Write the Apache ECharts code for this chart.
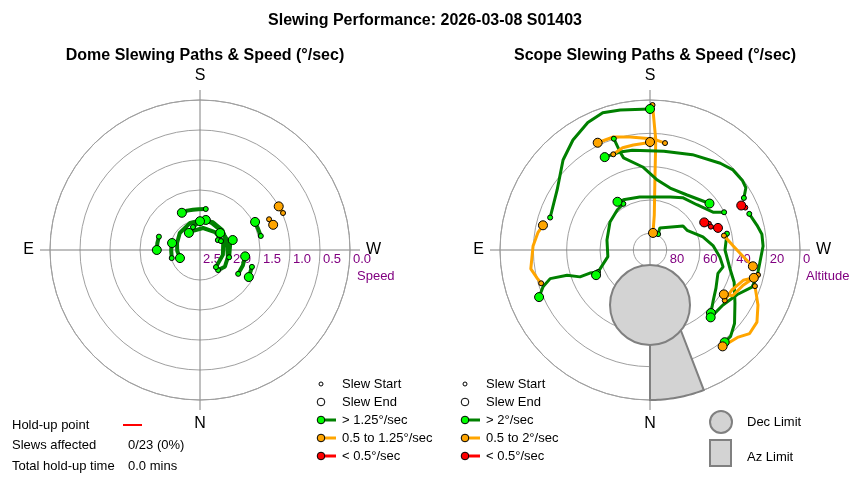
<!DOCTYPE html>
<html>
<head>
<meta charset="utf-8">
<script src="https://cdn.jsdelivr.net/npm/echarts@6/dist/echarts.min.js"></script>
<style>
  html, body { margin: 0; padding: 0; background: #fff; }
  #chart { width: 850px; height: 480px; }
</style>
</head>
<body>
<div id="chart"></div>
<script>
// dome slews: [speed °/sec, azimuth °]
const domeSlews = [
  [[1.81, 188], [1.82, 178], [1.82, 170], [1.81, 162], [1.81, 154]],
  [[1.78, 108], [1.78, 99], [1.78, 90]],
  [[2.01, 74], [2.02, 90], [2.02, 104]],
  [[2.05, 318], [2.0, 304], [2.02, 284], [2.04, 256], [2.0, 228], [1.99, 205], [2.0, 184], [2.02, 160], [2.06, 130], [2.1, 107], [2.12, 88], [2.14, 68]],
  [[2.11, 317], [2.11, 282], [2.09, 251], [2.11, 220], [2.13, 188], [2.16, 160], [2.16, 147]],
  [[2.0, 284], [1.99, 260], [2.02, 229], [2.01, 204], [1.99, 191]],
  [[2.16, 241], [2.06, 230]],
  [[2.1, 163], [2.02, 180]],
  [[1.75, 302], [1.74, 290], [1.74, 278]],
  [[1.59, 288], [1.57, 299]],
  [[1.46, 257], [1.47, 250], [1.47, 243]],
  [[0.985, 246], [1.0, 241]],
  [[1.24, 246], [1.21, 251]],
  [[2.12, 247], [1.93, 253]]
];
const domeClass = ['g', 'g', 'g', 'g', 'g', 'g', 'g', 'g', 'g', 'g', 'g', 'o', 'o', 'g'];

// scope slews: [altitude °, azimuth °]
const scopeSlews = [
  [[27.0, 108], [23.6, 123], [14.9, 136], [9.4, 145], [4.9, 154], [2.9, 161], [4.1, 168], [5.4, 180]],
  [[3.0, 181], [23.9, 183], [47.9, 184], [68.9, 187], [79.6, 190]],
  [[79.3, 207], [75.5, 204], [65.5, 234], [64.8, 242], [57.3, 256], [52.1, 266], [47.8, 276], [45.0, 283], [46.9, 289], [44.3, 300], [41.7, 308], [37.4, 316]],
  [[26.6, 250], [24.1, 257], [22.2, 262], [22.1, 268], [23.6, 276], [23.8, 284], [24.9, 290], [31.2, 297], [35.2, 307], [35.6, 318]],
  [[42.8, 258], [45.0, 270], [40.8, 283], [35.9, 291], [29.9, 302], [22.8, 311], [19.1, 317], [18.8, 321]],
  [[44.8, 259], [40.1, 267], [34.0, 274], [27.5, 279]],
  [[23.5, 283], [30.4, 291], [33.4, 299], [38.3, 301]],
  [[35.9, 304], [35.3, 296], [31.2, 288], [25.5, 285]],
  [[23.4, 289], [17.3, 297], [12.6, 304], [12.0, 310], [15.8, 315], [17.6, 323]],
  [[51.3, 246], [53.5, 243]],
  [[50.9, 249], [47.1, 252]],
  [[27.4, 246], [29.1, 244]],
  [[25.6, 241], [21.4, 237], [20.6, 233], [20.8, 226], [23.0, 219], [27.4, 204], [30.1, 188], [29.2, 170], [28.5, 163], [28.0, 154]],
  [[19.8, 162], [28.5, 163], [32.5, 164], [40.0, 175], [47.8, 186], [50.9, 198], [50.2, 214], [44.7, 232]],
  [[40.1, 243], [45.9, 239], [50.9, 226], [53.0, 212], [56.0, 201], [57.6, 169], [55.9, 152], [55.1, 146]],
  [[58.0, 150], [58.9, 141], [60.7, 125], [63.5, 103], [64.4, 81], [54.3, 65]],
  [[56.1, 67], [51.4, 69], [45.0, 69], [38.0, 73], [27.7, 74], [22.1, 71], [17.7, 67]],
  [[21.7, 73], [20.2, 76], [17.6, 81], [19.8, 92], [22.0, 99], [24.1, 103]],
  [[25.2, 188], [23.4, 182], [21.1, 170], [18.7, 162], [18.4, 154]],
  [[28.5, 159], [26.5, 165], [26.2, 171], [25.8, 178], [25.2, 180]]
];
const scopeClass = ['g', 'o', 'g', 'g', 'g', 'o', 'o', 'o', 'o', 'r', 'r', 'r', 'g', 'g', 'g', 'g', 'g', 'o', 'o', 'o'];

// limits: dec limit circle [alt, az, radius in alt °], az limit [az from, az to], [alt from, alt to]
const decLimit = [57, 0, 24];
const azLimitAz = [339, 360];
const azLimitAlt = [0, 42];

const speedTicks = [0, 0.5, 1.0, 1.5, 2.0, 2.5];
const altTicks = [0, 20, 40, 60, 80];
const compass = { 0: 'W', 90: 'N', 180: 'E', 270: 'S' };

const lineColors = { g: '#008000', o: '#ffa500', r: '#ff0000' };
const dotColors = { g: '#00ff00', o: '#ffa500', r: '#ff0000' };
const FONT = '"Liberation Sans", Arial, sans-serif';

// azimuth (N=0, E=90) -> angle axis value (starts at W on the right, clockwise)
const toAngle = az => (az + 90) % 360;

function angleAxis(p) {
  return {
    polarIndex: p, type: 'value', min: 0, max: 360, interval: 90,
    startAngle: 0, clockwise: true,
    axisLine: { show: true, lineStyle: { color: '#a0a0a0' } },
    axisTick: { show: true, length: 10, lineStyle: { color: '#808080' } },
    splitLine: { show: true, lineStyle: { color: '#808080' } },
    axisLabel: { formatter: v => compass[v] || '', fontSize: 16, color: '#000', margin: 16, fontFamily: FONT }
  };
}

function radiusAxis(p, max, interval, fmt) {
  return {
    polarIndex: p, type: 'value', min: 0, max: max, interval: interval, inverse: true,
    axisLine: { show: false }, axisTick: { show: false },
    splitLine: { show: true, lineStyle: { color: '#a0a0a0' } },
    axisLabel: { color: '#800080', fontSize: 13, fontFamily: FONT, formatter: fmt, align: 'left', verticalAlign: 'top', margin: -3, padding: [0, 0, 0, 3] }
  };
}

function slewSeries(p, slews, classes, width) {
  const out = [];
  slews.forEach((pts, i) => {
    out.push({
      type: 'line', coordinateSystem: 'polar', polarIndex: p, silent: true, z: 3,
      symbol: 'none', data: pts.map(d => [d[0], toAngle(d[1])]),
      lineStyle: { color: lineColors[classes[i]], width: width }
    });
  });
  const marks = (idx, size) => ({
    type: 'scatter', coordinateSystem: 'polar', polarIndex: p, silent: true, z: 4,
    symbolSize: size,
    itemStyle: { borderColor: '#000', borderWidth: 1, opacity: 1 },
    data: slews.map((pts, i) => {
      const d = idx === 0 ? pts[0] : pts[pts.length - 1];
      return { value: [d[0], toAngle(d[1])], itemStyle: { color: dotColors[classes[i]] } };
    })
  });
  out.push(marks(0, 5));
  out.push(marks(1, 9));
  return out;
}

const limitStyle = { fill: '#d3d3d3', stroke: '#808080', lineWidth: 2 };

const limitSeries = [
  {
    type: 'custom', coordinateSystem: 'polar', polarIndex: 1, silent: true, z: 2,
    data: [[azLimitAlt[0], toAngle(azLimitAz[0])]],
    renderItem: (params, api) => {
      const pts = [];
      for (let a = azLimitAz[0]; a <= azLimitAz[1]; a++) pts.push(api.coord([azLimitAlt[0], toAngle(a)]));
      for (let a = azLimitAz[1]; a >= azLimitAz[0]; a--) pts.push(api.coord([azLimitAlt[1], toAngle(a)]));
      return { type: 'polygon', shape: { points: pts }, style: limitStyle };
    }
  },
  {
    type: 'custom', coordinateSystem: 'polar', polarIndex: 1, silent: true, z: 2,
    data: [[decLimit[0], toAngle(decLimit[1])]],
    renderItem: (params, api) => {
      const c = api.coord([api.value(0), api.value(1)]);
      const e = api.coord([api.value(0) - decLimit[2], api.value(1)]);
      const r = Math.hypot(e[0] - c[0], e[1] - c[1]);
      return { type: 'circle', shape: { cx: c[0], cy: c[1], r: r }, style: limitStyle };
    }
  }
];

function txt(x, y, text, extra) {
  return Object.assign({ type: 'text', x: x, y: y, silent: true,
    style: { text: text, fontSize: 13, fontFamily: FONT, fill: '#000', verticalAlign: 'middle' } }, extra || {});
}
function dot(cx, cy, r, fill) {
  return { type: 'circle', silent: true, shape: { cx: cx, cy: cy, r: r }, style: { fill: fill, stroke: '#000', lineWidth: 1 } };
}
function legendBlock(x, labels) {
  const rows = [384, 402, 420, 438, 456];
  const g = [dot(x, rows[0], 2, '#fff'), dot(x, rows[1], 3.8, '#fff')];
  ['g', 'o', 'r'].forEach((c, i) => {
    g.push({ type: 'line', silent: true, shape: { x1: x, y1: rows[i + 2], x2: x + 15, y2: rows[i + 2] }, style: { stroke: lineColors[c], lineWidth: 3 } });
    g.push(dot(x, rows[i + 2], 3.8, dotColors[c]));
  });
  labels.forEach((t, i) => g.push(txt(x + 21, rows[i], t)));
  return g;
}

const graphics = [].concat(
  legendBlock(321, ['Slew Start', 'Slew End', '> 1.25°/sec', '0.5 to 1.25°/sec', '< 0.5°/sec']),
  legendBlock(465, ['Slew Start', 'Slew End', '> 2°/sec', '0.5 to 2°/sec', '< 0.5°/sec']),
  [
    { type: 'circle', silent: true, shape: { cx: 721, cy: 422, r: 11 }, style: limitStyle },
    { type: 'rect', silent: true, shape: { x: 710, y: 440, width: 21, height: 26 }, style: limitStyle },
    txt(747, 422, 'Dec Limit'),
    txt(747, 457, 'Az Limit'),
    txt(12, 425, 'Hold-up point'),
    { type: 'line', silent: true, shape: { x1: 123, y1: 425, x2: 142, y2: 425 }, style: { stroke: '#ff0000', lineWidth: 2 } },
    txt(12, 445, 'Slews affected'),
    txt(128, 445, '0/23 (0%)'),
    txt(12, 466, 'Total hold-up time'),
    txt(128, 466, '0.0 mins')
  ]
);

const chart = echarts.init(document.getElementById('chart'));
chart.setOption({
  animation: false,
  backgroundColor: '#fff',
  title: [
    { text: 'Slewing Performance: 2026-03-08 S01403', left: 'center', top: 8, textStyle: { fontSize: 16, fontWeight: 'bold', fontFamily: FONT, color: '#000' } },
    { text: 'Dome Slewing Paths & Speed (°/sec)', left: 200, textAlign: 'center', top: 43, textStyle: { fontSize: 16, fontWeight: 'bold', fontFamily: FONT, color: '#000' } },
    { text: 'Scope Slewing Paths & Speed (°/sec)', left: 650, textAlign: 'center', top: 43, textStyle: { fontSize: 16, fontWeight: 'bold', fontFamily: FONT, color: '#000' } },
    { text: 'Speed', left: 352, top: 265, textStyle: { fontSize: 13, fontWeight: 'normal', fontFamily: FONT, color: '#800080' } },
    { text: 'Altitude', left: 801, top: 265, textStyle: { fontSize: 13, fontWeight: 'normal', fontFamily: FONT, color: '#800080' } }
  ],
  polar: [
    { center: [200, 250], radius: 150 },
    { center: [650, 250], radius: 150 }
  ],
  angleAxis: [angleAxis(0), angleAxis(1)],
  radiusAxis: [
    radiusAxis(0, speedTicks[speedTicks.length - 1], 0.5, v => v.toFixed(1)),
    radiusAxis(1, 90, 20, v => (altTicks.indexOf(v) >= 0 ? String(v) : ''))
  ],
  graphic: graphics,
  series: [].concat(
    limitSeries,
    slewSeries(0, domeSlews, domeClass, 4),
    slewSeries(1, scopeSlews, scopeClass, 3)
  )
});
</script>
</body>
</html>
